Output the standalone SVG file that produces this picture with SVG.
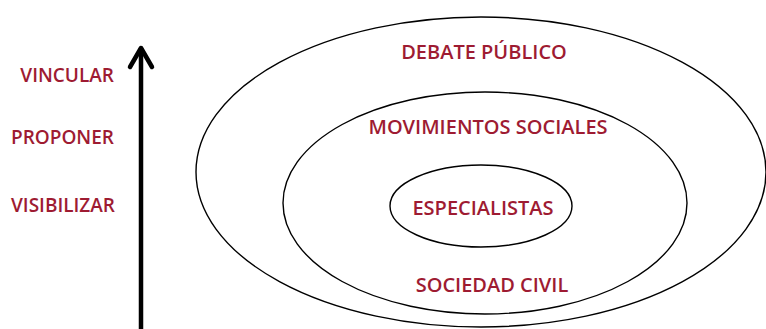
<svg xmlns="http://www.w3.org/2000/svg" width="766" height="329" viewBox="0 0 766 329">
<style>
.lbl{font-family:"Open Sans","Liberation Sans",sans-serif;font-weight:600;fill:#9E1B32;font-size:20px}
.side{font-size:19px}
.ring{fill:none;stroke:#000;stroke-width:1.4}
</style>
<rect width="766" height="329" fill="#fff"/>
<g id="axis">
<line x1="141" y1="329" x2="141" y2="48" stroke="#000" stroke-width="4.5"/>
<polyline points="130,67 141,48 152,67" fill="none" stroke="#000" stroke-width="4.5" stroke-linecap="round" stroke-linejoin="round"/>
</g>
<g id="levels">
<text class="lbl side" x="114" y="82" text-anchor="end">VINCULAR</text>
<text class="lbl side" x="114" y="144" text-anchor="end">PROPONER</text>
<text class="lbl side" x="115" y="212" text-anchor="end">VISIBILIZAR</text>
</g>
<g id="debate">
<ellipse class="ring" cx="481" cy="172" rx="285" ry="155"/>
<text class="lbl" x="484" y="59" text-anchor="middle">DEBATE PÚBLICO</text>
</g>
<g id="movimientos">
<ellipse class="ring" cx="485" cy="203" rx="202" ry="111"/>
<text class="lbl" x="488" y="134" text-anchor="middle">MOVIMIENTOS SOCIALES</text>
<text class="lbl" x="492" y="292" text-anchor="middle">SOCIEDAD CIVIL</text>
</g>
<g id="especialistas">
<ellipse class="ring" cx="481" cy="206" rx="91" ry="41"/>
<text class="lbl" x="483" y="215" text-anchor="middle">ESPECIALISTAS</text>
</g>
</svg>
